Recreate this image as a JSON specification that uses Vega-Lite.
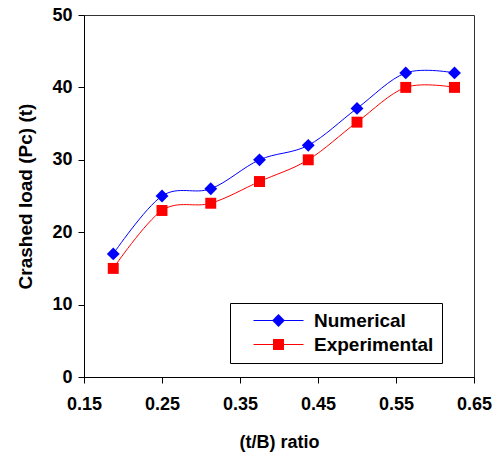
{
  "$schema": "https://vega.github.io/schema/vega-lite/v6.json",
  "autosize": {"type": "none"},
  "padding": {"left": 84, "top": 15, "right": 25, "bottom": 82},
  "width": 390,
  "height": 362,
  "background": "white",
  "config": {
    "view": {"stroke": "#333333", "strokeWidth": 1},
    "font": "Liberation Sans",
    "axis": {
      "grid": false,
      "domainColor": "black",
      "tickColor": "black",
      "tickSize": 6,
      "labelFont": "Liberation Sans",
      "labelFontWeight": "bold",
      "labelFontSize": 18,
      "labelColor": "black",
      "titleFont": "Liberation Sans",
      "titleFontWeight": "bold",
      "titleFontSize": 18,
      "titleColor": "black"
    }
  },
  "data": {
    "values": [
      {"ratio": 0.1875, "load": 17, "series": "Numerical"},
      {"ratio": 0.25, "load": 25, "series": "Numerical"},
      {"ratio": 0.3125, "load": 26, "series": "Numerical"},
      {"ratio": 0.375, "load": 30, "series": "Numerical"},
      {"ratio": 0.4375, "load": 32, "series": "Numerical"},
      {"ratio": 0.5, "load": 37.1, "series": "Numerical"},
      {"ratio": 0.5625, "load": 42, "series": "Numerical"},
      {"ratio": 0.625, "load": 42, "series": "Numerical"},
      {"ratio": 0.1875, "load": 15, "series": "Experimental"},
      {"ratio": 0.25, "load": 23, "series": "Experimental"},
      {"ratio": 0.3125, "load": 24, "series": "Experimental"},
      {"ratio": 0.375, "load": 27, "series": "Experimental"},
      {"ratio": 0.4375, "load": 30, "series": "Experimental"},
      {"ratio": 0.5, "load": 35.2, "series": "Experimental"},
      {"ratio": 0.5625, "load": 40, "series": "Experimental"},
      {"ratio": 0.625, "load": 40, "series": "Experimental"}
    ]
  },
  "encoding": {
    "x": {
      "field": "ratio", "type": "quantitative",
      "scale": {"domain": [0.15, 0.65], "nice": false, "zero": false},
      "axis": {"values": [0.15, 0.25, 0.35, 0.45, 0.55, 0.65], "format": ".2f", "title": "(t/B) ratio", "labelFlush": false, "labelOverlap": false, "labelPadding": 12, "titlePadding": 20}
    },
    "y": {
      "field": "load", "type": "quantitative",
      "scale": {"domain": [0, 50], "nice": false},
      "axis": {"values": [0, 10, 20, 30, 40, 50], "title": "Crashed load (Pc) (t)", "titleFontSize": 19, "labelPadding": 6, "titlePadding": 16}
    }
  },
  "layer": [
    {
      "mark": {"type": "line", "interpolate": "cardinal", "strokeWidth": 1},
      "encoding": {
        "stroke": {
          "field": "series", "type": "nominal",
          "sort": "descending",
          "scale": {"range": ["#0000ff", "#ff0000"]},
          "legend": {
            "title": null, "orient": "none", "legendX": 146, "legendY": 288,
            "strokeColor": "black", "padding": 8,
            "symbolType": "M-5,0H5", "symbolSize": 100, "symbolStrokeWidth": 1,
            "symbolOffset": 31, "labelOffset": 26,
            "labelFont": "Liberation Sans", "labelFontWeight": "bold", "labelFontSize": 19, "labelColor": "black",
            "rowPadding": 4
          }
        }
      }
    },
    {
      "mark": {"type": "point", "filled": true, "opacity": 1, "strokeWidth": 0},
      "encoding": {
        "fill": {
          "field": "series", "type": "nominal",
          "scale": {"domain": ["Numerical", "Experimental"], "range": ["#0000ff", "#ff0000"]},
          "legend": {
            "title": null, "orient": "none", "legendX": 146, "legendY": 288,
            "padding": 8, "symbolOffset": 31, "labelOffset": 26,
            "symbolStrokeWidth": 0,
            "labelFont": "Liberation Sans", "labelFontWeight": "bold", "labelFontSize": 19, "labelColor": "transparent",
            "rowPadding": 4
          }
        },
        "shape": {
          "field": "series", "type": "nominal",
          "scale": {"domain": ["Numerical", "Experimental"], "range": ["diamond", "square"]},
          "legend": {
            "title": null, "orient": "none", "legendX": 146, "legendY": 288,
            "padding": 8, "symbolOffset": 31, "labelOffset": 26,
            "symbolStrokeWidth": 0,
            "labelFont": "Liberation Sans", "labelFontWeight": "bold", "labelFontSize": 19, "labelColor": "transparent",
            "rowPadding": 4
          }
        },
        "size": {
          "field": "series", "type": "nominal",
          "scale": {"domain": ["Numerical", "Experimental"], "range": [165, 120]},
          "legend": {
            "title": null, "orient": "none", "legendX": 146, "legendY": 288,
            "padding": 8, "symbolOffset": 31, "labelOffset": 26,
            "symbolStrokeWidth": 0,
            "labelFont": "Liberation Sans", "labelFontWeight": "bold", "labelFontSize": 19, "labelColor": "transparent",
            "rowPadding": 4
          }
        }
      }
    }
  ]
}
